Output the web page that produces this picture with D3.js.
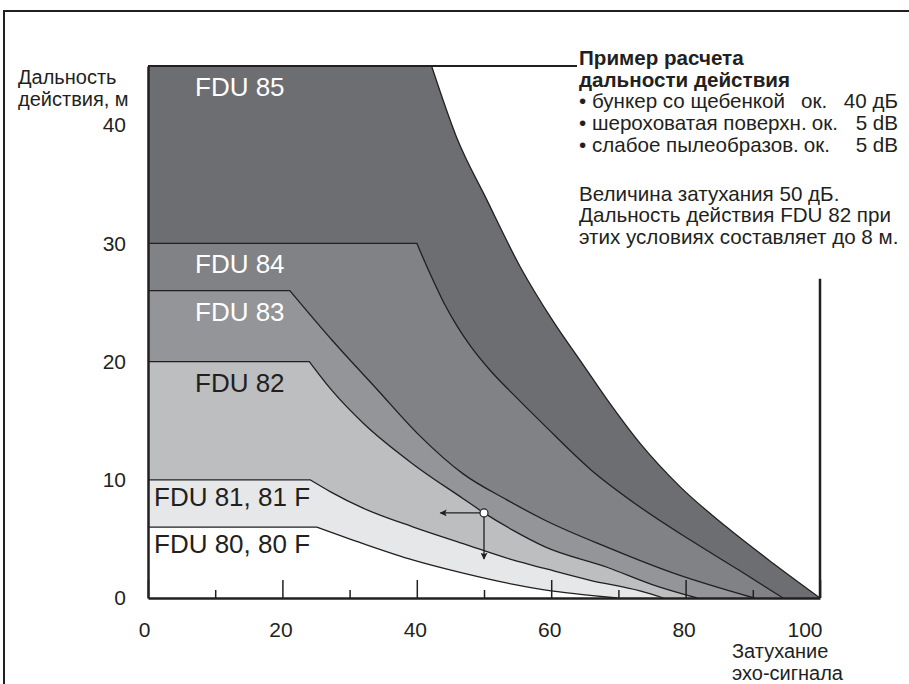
<!DOCTYPE html>
<html>
<head>
<meta charset="utf-8">
<script src="https://cdn.jsdelivr.net/npm/d3@7"></script>
<style>
  body { margin: 0; background: #fff; }
  svg { display: block; font-family: "Liberation Sans", Arial, sans-serif; }
</style>
</head>
<body>
<svg width="909" height="684"></svg>
<script>
// attenuation (dB) on x, range (m) on y
var attenuationTicks = [0, 20, 40, 60, 80, 100];
var attenuationMinor = [10, 30, 50, 70, 90];
var rangeTicks = [0, 10, 20, 30, 40];

var sensorNames = ["FDU 85", "FDU 84", "FDU 83", "FDU 82", "FDU 81, 81 F", "FDU 80, 80 F"];

var fdu85 = [[0,45],[42.2,45],[45.9,39],[50.4,33.7],[55.4,28],[60.3,23.4],[64.3,20.1],[68.3,16.8],
             [73.2,13.1],[79.2,9.4],[86.1,6.0],[93.1,2.9],[100,0]];
var fdu84 = [[0,30],[40,30],[42,27.4],[44,25.0],[46,23.0],[48,21.3],[51,19.2],[54.4,17.2],[59,14.6],
             [65.8,10.9],[73.2,7.7],[80.7,4.9],[88.1,2.3],[94.5,0]];
var fdu83 = [[0,26],[21.1,26],[27.4,21.8],[34,17.7],[40.3,13.8],[46.9,10.5],[53.4,8.3],[59,6.6],
             [68.3,4.3],[78.2,2.1],[90.2,0]];
var fdu82 = [[0,20],[24,20],[27.3,17.6],[32,14.8],[39.5,11.3],[46.9,8.4],[50,7.2],[54.4,5.7],
             [59,4.35],[68.3,2.6],[75.7,1.0],[81.7,0]];
var fdu81 = [[0,10],[24.1,10],[27.1,9.0],[32,7.6],[39.5,6.0],[46.9,4.6],[54.4,3.2],[59,2.5],
             [65.8,1.5],[73.2,0.6],[76.7,0]];
var fdu80 = [[0,6],[25.1,6],[32,4.6],[39.5,3.2],[46.9,2.1],[54.4,1.15],[60,0.6],[65.8,0.22],[69.8,0]];

var sensorSeries = [fdu85, fdu84, fdu83, fdu82, fdu81, fdu80];

// example: 50 dB on FDU 82
var examplePoint = [50, 7.2];
var exampleArrowX = 43.5;
var exampleArrowY = 3.3;

var noteHead = ["Пример расчета", "дальности действия"];
var noteItems = ["бункер со щебенкой", "шероховатая поверхн.", "слабое пылеобразов."];
var noteValues = ["40 дБ", "5 dB", "5 dB"];
var noteText = ["Величина затухания 50 дБ.", "Дальность действия FDU 82 при", "этих условиях составляет до 8 м."];

var fills = ["#6d6e71", "#808285", "#939598", "#bcbec0", "#e6e7e8", "#ffffff"];
var labelColors = ["#fff", "#fff", "#fff", "#231f20", "#231f20", "#231f20"];
var ink = "#231f20";

var svg = d3.select("svg");

var x = d3.scaleLinear().domain([0, 100]).range([148, 820]);
var y = d3.scaleLinear().domain([0, 45]).range([598, 66]);

// frame
svg.append("path")
    .attr("d", "M4,684V11H909")
    .attr("fill", "none")
    .attr("stroke", ink)
    .attr("stroke-width", 2);

var line = d3.line()
    .x(function(d) { return x(d[0]); })
    .y(function(d) { return y(d[1]); })
    .curve(d3.curveMonotoneX);

// flat part straight, falling part smooth
function curvePath(pts) {
    var head = "M" + x(pts[0][0]) + "," + y(pts[0][1]);
    return head + "L" + line(pts.slice(1)).slice(1);
}

var g = svg.append("g");

g.selectAll(".area")
    .data(sensorSeries)
    .enter().append("path")
    .attr("class", "area")
    .attr("d", function(d) { return curvePath(d) + "L" + x(0) + "," + y(0) + "Z"; })
    .attr("fill", function(d, i) { return fills[i]; });

g.selectAll(".curve")
    .data(sensorSeries)
    .enter().append("path")
    .attr("class", "curve")
    .attr("d", curvePath)
    .attr("fill", "none")
    .attr("stroke", ink)
    .attr("stroke-width", 1.3);

// leader from FDU 85 plateau to the note
var noteX = 579;
g.append("line")
    .attr("x1", x(0)).attr("x2", noteX - 2)
    .attr("y1", y(45)).attr("y2", y(45))
    .attr("stroke", ink)
    .attr("stroke-width", 2);

// right border line at 100 dB
g.append("line")
    .attr("x1", x(100)).attr("x2", x(100))
    .attr("y1", y(0)).attr("y2", y(27))
    .attr("stroke", ink)
    .attr("stroke-width", 2.5);

// labels
g.selectAll(".lbl")
    .data(sensorNames)
    .enter().append("text")
    .attr("class", "lbl")
    .attr("x", function(d, i) { return i < 4 ? 195 : 154; })
    .attr("y", function(d, i) { return y(sensorSeries[i][0][1]) + (i < 4 ? 30 : 26); })
    .attr("font-size", 26)
    .attr("fill", function(d, i) { return labelColors[i]; })
    .text(function(d) { return d; });

// axes
var xAxis = g.append("g")
    .attr("transform", "translate(0," + y(0) + ")")
    .call(d3.axisBottom(x).tickValues(attenuationTicks).tickSizeInner(-18).tickSizeOuter(0).tickPadding(24));
xAxis.select(".domain").attr("stroke", ink).attr("stroke-width", 2.5);
xAxis.selectAll(".tick line").attr("stroke", ink).attr("stroke-width", 1.5);
xAxis.selectAll(".tick text")
    .attr("font-size", 21)
    .attr("font-family", "Liberation Sans, Arial, sans-serif")
    .attr("fill", ink)
    .attr("text-anchor", function(d) { return d === 100 ? "end" : "middle"; })
    .attr("dx", function(d) { return d === 100 ? 2 : (d === 0 ? -4 : -2); });

var xMinor = g.append("g")
    .attr("transform", "translate(0," + y(0) + ")")
    .call(d3.axisBottom(x).tickValues(attenuationMinor).tickSizeInner(-8).tickSizeOuter(0).tickFormat(""));
xMinor.select(".domain").remove();
xMinor.selectAll(".tick line").attr("stroke", ink).attr("stroke-width", 1.5);

var yAxis = g.append("g")
    .attr("transform", "translate(" + x(0) + ",0)")
    .call(d3.axisLeft(y).tickValues(rangeTicks).tickSize(0).tickPadding(22));
yAxis.select(".domain").attr("stroke", ink).attr("stroke-width", 2.5);
yAxis.selectAll(".tick text")
    .attr("font-size", 21)
    .attr("font-family", "Liberation Sans, Arial, sans-serif")
    .attr("fill", ink);

// axis titles
var yTitle = svg.append("text").attr("font-size", 20).attr("fill", ink);
yTitle.append("tspan").attr("x", 18).attr("y", 84).text("Дальность");
yTitle.append("tspan").attr("x", 18).attr("y", 106).text("действия, м");

var xTitle = svg.append("text").attr("font-size", 20).attr("fill", ink);
xTitle.append("tspan").attr("x", 732).attr("y", 658).text("Затухание");
xTitle.append("tspan").attr("x", 732).attr("y", 680).text("эхо-сигнала");

// example arrows
var defs = svg.append("defs");
defs.append("marker")
    .attr("id", "head")
    .attr("viewBox", "0 0 10 10")
    .attr("refX", 9).attr("refY", 5)
    .attr("markerWidth", 11).attr("markerHeight", 7)
    .attr("markerUnits", "userSpaceOnUse")
    .attr("orient", "auto")
    .append("path")
    .attr("d", "M0,0L10,5L0,10L2,5Z")
    .attr("fill", ink);

g.append("line")
    .attr("x1", x(examplePoint[0])).attr("y1", y(examplePoint[1]))
    .attr("x2", x(exampleArrowX)).attr("y2", y(examplePoint[1]))
    .attr("stroke", ink).attr("stroke-width", 1.3)
    .attr("marker-end", "url(#head)");
g.append("line")
    .attr("x1", x(examplePoint[0])).attr("y1", y(examplePoint[1]))
    .attr("x2", x(examplePoint[0])).attr("y2", y(exampleArrowY))
    .attr("stroke", ink).attr("stroke-width", 1.3)
    .attr("marker-end", "url(#head)");
g.append("circle")
    .attr("cx", x(examplePoint[0])).attr("cy", y(examplePoint[1]))
    .attr("r", 4)
    .attr("fill", "#fff")
    .attr("stroke", ink)
    .attr("stroke-width", 1.2);

// note block
var note = svg.append("g").attr("font-size", 20.6).attr("fill", ink);
var lh = 21.7;
var base0 = 65;
noteHead.forEach(function(t, i) {
    note.append("text")
        .attr("x", noteX).attr("y", base0 + i * lh)
        .attr("font-weight", "bold")
        .text(t);
});
noteItems.forEach(function(t, i) {
    var yy = base0 + (i + 2) * lh;
    var item = note.append("text").attr("x", noteX).attr("y", yy).text("\u2022 " + t);
    var end = noteX + item.node().getComputedTextLength();
    note.append("text").attr("x", Math.max(801, end + 5)).attr("y", yy).text("ок.");
    note.append("text").attr("x", 898).attr("y", yy).attr("text-anchor", "end").text(noteValues[i]);
});
noteText.forEach(function(t, i) {
    note.append("text")
        .attr("x", noteX).attr("y", base0 + 4 * lh + 48.8 + i * lh)
        .text(t);
});
</script>
</body>
</html>
